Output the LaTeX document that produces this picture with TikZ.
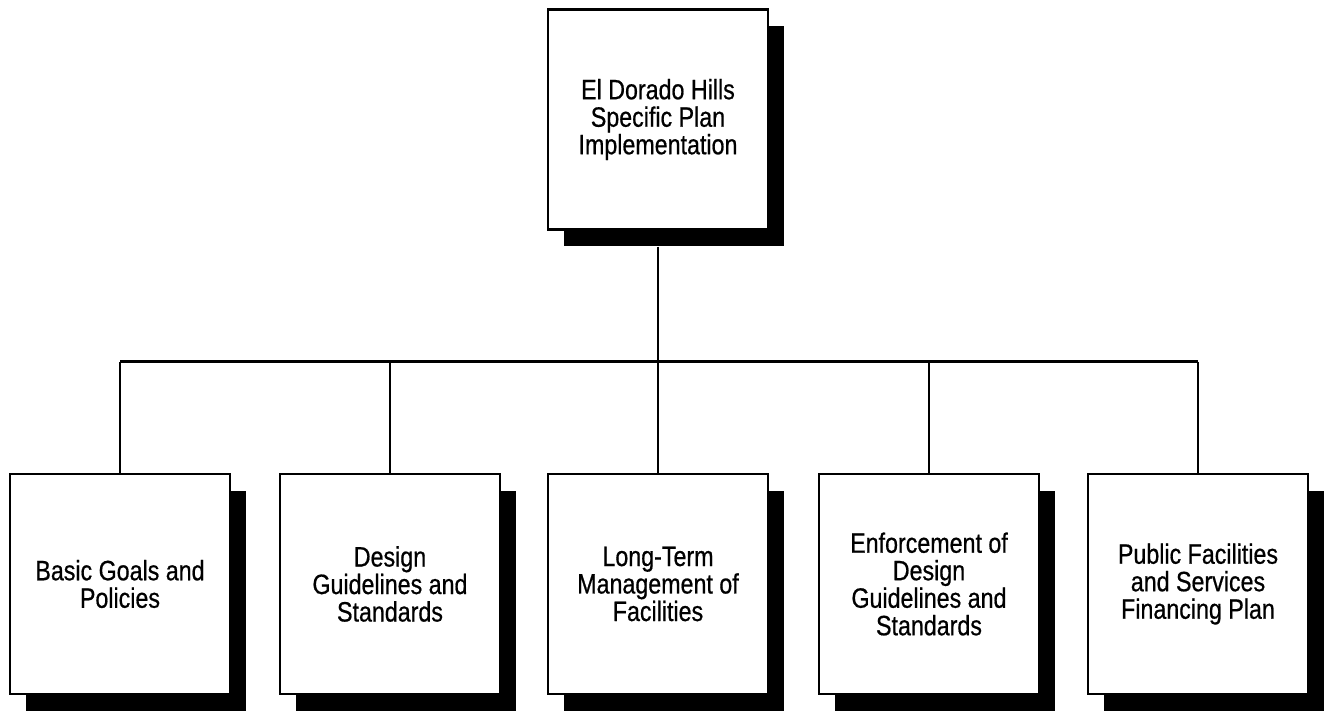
\documentclass[tikz,border=0pt]{standalone}
\usepackage{fontspec}
\setmainfont{Liberation Sans}[FakeStretch=0.83,FakeBold=0.6]
\begin{document}
\begin{tikzpicture}[x=1pt,y=-1pt,
  box/.style={draw=black,line width=2.4pt,fill=white,minimum width=220pt,minimum height=220pt,
    inner sep=0pt,align=center,font=\fontsize{28}{27.5}\selectfont},
  shadow/.style={fill=black},
  conn/.style={draw=black,line width=2.2pt}]
\useasboundingbox (0,0) rectangle (1324,711);
% shadows
\foreach \cx/\cy in {658/119.5,120/584,390/584,658/584,929/584,1198/584}{
  \fill[shadow] (\cx-110+16,\cy-110+17) rectangle (\cx+110+16,\cy+110+17);
}
\node[box] (top) at (658,119.5) {El Dorado Hills\\Specific Plan\\Implementation};
\node[box] (b1) at (120,584) {Basic Goals and\\Policies};
\node[box] (b2) at (390,584) {Design\\Guidelines and\\Standards};
\node[box] (b3) at (658,584) {Long-Term\\Management of\\Facilities};
\node[box] (b4) at (929,584) {Enforcement of\\Design\\Guidelines and\\Standards};
\node[box] (b5) at (1198,584) {Public Facilities\\and Services\\Financing Plan};
\coordinate (bus) at (658,361.5);
\draw[conn] ([yshift=-16pt]top.south) -- (top.south |- bus);
\draw[conn] (b1.north |- bus) -- (b5.north |- bus);
\foreach \b in {b1,b2,b3,b4,b5}{
  \draw[conn] (\b.north) -- (\b.north |- bus);
}
\end{tikzpicture}
\end{document}
